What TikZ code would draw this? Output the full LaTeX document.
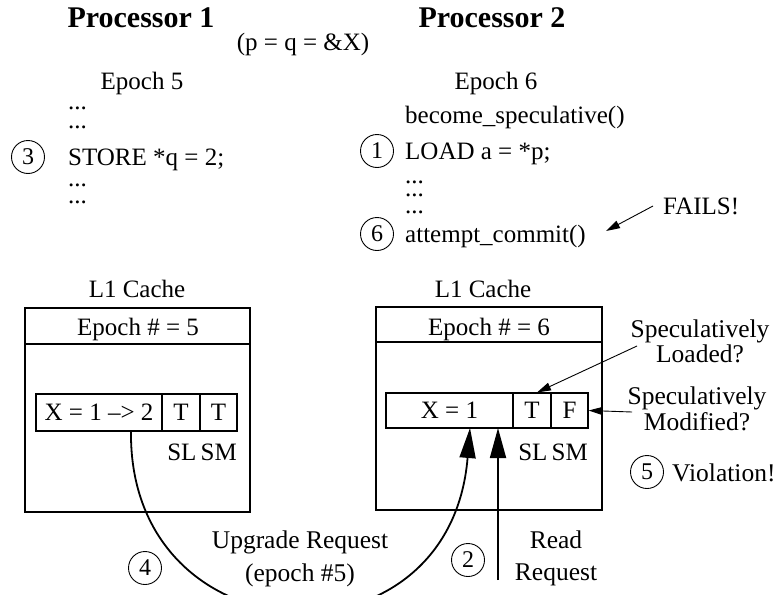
\documentclass[tikz,border=0pt]{standalone}
\usepackage{fontspec}
\setmainfont{Liberation Serif}
\usetikzlibrary{arrows.meta}
\begin{document}
\begin{tikzpicture}[x=1pt,y=-1pt,
  txt/.style={inner sep=0pt, font=\fontsize{25}{27}\selectfont},
  dots/.style={inner sep=0pt, font=\fontsize{25}{27}\selectfont, text height=3pt, text depth=0pt},
  ttl/.style={inner sep=0pt, font=\fontsize{30}{32}\selectfont\bfseries},
  num/.style={circle, draw, line width=0.9pt, minimum size=33pt, inner sep=0pt, font=\fontsize{24}{25}\selectfont},
  frame/.style={draw, line width=1.1pt, inner sep=0pt},
  cell/.style={draw, line width=1.1pt, inner sep=0pt, font=\fontsize{25}{27}\selectfont},
  big/.style={line width=1.8pt, -{Triangle[length=30pt,width=16pt]}},
  small/.style={line width=0.9pt, -{Triangle[length=14pt,width=8pt]}}
]
\useasboundingbox (0,0) rectangle (775,594);
\clip (0,0) rectangle (775,594);

% titles
\node[ttl, anchor=base] (p1) at (141,28) {Processor 1};
\node[ttl, anchor=base] (p2) at (492,28) {Processor 2};
\node[txt, anchor=base] (pq) at (303,51) {(p = q = \&X)};

% processor 1 code
\node[txt, anchor=base] (ep5) at (142,89) {Epoch 5};
\node[dots, anchor=base west] (l1) at (68,109) {...};
\node[dots, anchor=base west] (l2) at (68,128) {...};
\node[txt, anchor=base west] (store) at (68,165) {STORE *q = 2;};
\node[dots, anchor=base west] (l4) at (68,186) {...};
\node[dots, anchor=base west] (l5) at (68,203) {...};
\node[num] (c3) at (28,157) {3};

% processor 2 code
\node[txt, anchor=base] (ep6) at (496,89) {Epoch 6};
\node[txt, anchor=base west] (spec) at (405,123) {become\_speculative()};
\node[txt, anchor=base west] (load) at (405,159) {LOAD a = *p;};
\node[dots, anchor=base west] (r1) at (405,183) {...};
\node[dots, anchor=base west] (r2) at (405,196) {...};
\node[dots, anchor=base west] (r3) at (405,213) {...};
\node[txt, anchor=base west] (commit) at (405,242) {attempt\_commit()};
\node[num] (c1) at (377,151) {1};
\node[num] (c6) at (377,234) {6};
\node[txt, anchor=base west] (fails) at (663,214) {FAILS!};
\coordinate (failsfrom) at (653,206);
\coordinate (failsto) at (606,231);
\draw[small] (failsfrom) -- (failsto);

% left cache
\node[txt, anchor=base] (lcache) at (137,297) {L1 Cache};
\node[frame, minimum width=225pt, minimum height=36pt] (lhead) at (137.5,326) {};
\node[frame, minimum width=225pt, minimum height=168pt] (lbody) at (137.5,428) {};
\node[txt, anchor=base] (lepoch) at (138,335) {Epoch \# = 5};
\node[cell, minimum width=126pt, minimum height=37pt] (lx) at (99,412.5) {X = 1 --> 2};
\node[cell, minimum width=38pt, minimum height=37pt] (lsl) at (181,412.5) {T};
\node[cell, minimum width=37pt, minimum height=37pt] (lsm) at (218.5,412.5) {T};
\node[txt, anchor=base east] (lslsm) at (237,460) {SL\,SM};

% right cache
\node[txt, anchor=base] (rcache) at (483,297) {L1 Cache};
\node[frame, minimum width=226pt, minimum height=35pt] (rhead) at (489,324.5) {};
\node[frame, minimum width=226pt, minimum height=168pt] (rbody) at (489,426) {};
\node[txt, anchor=base] (repoch) at (489,335) {Epoch \# = 6};
\node[cell, minimum width=127pt, minimum height=35pt] (rx) at (449.5,410.5) {X = 1};
\node[cell, minimum width=38pt, minimum height=35pt] (rsl) at (532,410.5) {T};
\node[cell, minimum width=37pt, minimum height=35pt] (rsm) at (569.5,410.5) {F};
\node[txt, anchor=base east] (rslsm) at (588,460) {SL\,SM};

% annotations on right
\node[txt, align=center, font=\fontsize{25.5}{25}\selectfont] (sload) at (700,341) {Speculatively\\Loaded?};
\node[txt, align=center, font=\fontsize{25.5}{26}\selectfont] (smod) at (697,409) {Speculatively\\Modified?};
\coordinate (sloadfrom) at (637,346);
\coordinate (smodfrom) at (632,412);
\draw[small] (sloadfrom) -- ([xshift=5pt]rsl.north);
\draw[small] (smodfrom) -- (rsm.east);
\node[num] (c5) at (647,472) {5};
\node[txt, anchor=base west, font=\fontsize{25.5}{27}\selectfont] (viol) at (672,481) {Violation!};

% bottom requests
\coordinate (upsrc) at (131,431);
\coordinate (updst) at (470,428);
\draw[big] (upsrc) .. controls (128,660) and (450,675) .. (updst);
\coordinate (readsrc) at (498,580);
\coordinate (readdst) at (498,428);
\draw[big] (readsrc) -- (readdst);
\node[num] (c4) at (145,568) {4};
\node[num] (c2) at (468,560) {2};
\node[txt, anchor=base, font=\fontsize{25.5}{27}\selectfont] (upg) at (300,548) {Upgrade Request};
\node[txt, anchor=base, font=\fontsize{25.5}{27}\selectfont] (upe) at (300,581) {(epoch \#5)};
\node[txt, anchor=base, font=\fontsize{25.5}{27}\selectfont] (rd) at (556,548) {Read};
\node[txt, anchor=base, font=\fontsize{25.5}{27}\selectfont] (rq) at (556,580) {Request};
\end{tikzpicture}
\end{document}
